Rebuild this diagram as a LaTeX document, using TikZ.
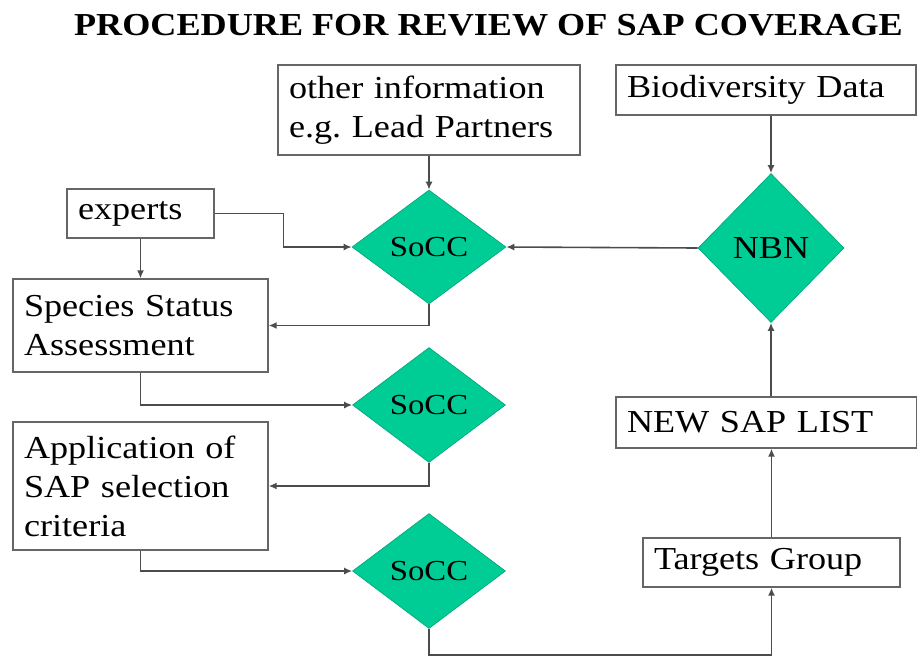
\documentclass[tikz,border=0pt]{standalone}
\usepackage{fontspec}
\setmainfont{Liberation Serif}[FakeStretch=1.13]
\usepackage{tikz}
\usetikzlibrary{shapes.geometric,arrows.meta,positioning}
\definecolor{soccgreen}{RGB}{0,204,150}

\begin{document}
\begin{tikzpicture}[x=1pt,y=-1pt,
    box/.style={draw=black!60,line width=1.3pt,fill=white,inner xsep=11pt,inner ysep=0pt,
        align=left,font=\fontsize{32}{39}\selectfont},
    decision/.style={diamond,fill=soccgreen,draw=soccgreen!80!black,line width=0.6pt,inner sep=0pt,
        font=\fontsize{29}{32}\selectfont},
    link/.style={draw=black!70,line width=1.6pt,-{Latex[length=8pt,width=7pt]}}]
    \useasboundingbox (0,0) rectangle (917,657);
    \node[anchor=base,font=\fontsize{32}{36}\selectfont\bfseries] (title) at (488.5,35)
        {PROCEDURE FOR REVIEW OF SAP COVERAGE};
    % input boxes
    \node[box,text width=280pt,minimum height=90pt] (info) at (429,110)
        {other information\\e.g.\ Lead Partners};
    \node[box,text width=278pt,minimum height=50pt] (bio) at (766,90) {Biodiversity Data};
    \node[box,text width=125pt,minimum height=49pt] (experts) at (140.5,213.5) {experts};
    \node[box,text width=233pt,minimum height=93pt] (species) at (140.5,325.5)
        {Species Status\\Assessment};
    \node[box,text width=233pt,minimum height=128pt] (appl) at (140.5,486)
        {Application of\\SAP selection\\criteria};
    \node[box,text width=279pt,minimum height=51pt] (newsap) at (766.5,422.5) {NEW SAP LIST};
    \node[box,text width=235pt,minimum height=49pt] (targets) at (771.5,562.5) {Targets Group};
    % decision points
    \node[decision,minimum width=154pt,minimum height=114pt] (soccA) at (429,247) {SoCC};
    \node[decision,minimum width=146pt,minimum height=149pt,font=\fontsize{32}{34}\selectfont]
        (nbn) at (771,248) {NBN};
    \node[decision,minimum width=153pt,minimum height=115pt] (soccB) at (429,405) {SoCC};
    \node[decision,minimum width=153pt,minimum height=115pt] (soccC) at (429,571) {SoCC};
    % connectors
    \draw[link] (info.south) -- (soccA.north);
    \draw[link] (nbn.north |- bio.south) -- (nbn.north);
    \draw[link] (nbn.west) -- (soccA.east);
    \draw[link] (experts.east) -- ++(69,0) |- (soccA.west);
    \draw[link] (experts.south) -- (species.north);
    \draw[link] (soccA.south) |- (species.east);
    \draw[link] (species.south) |- (soccB.west);
    \draw[link] (soccB.south) |- (appl.east);
    \draw[link] (appl.south) |- (soccC.west);
    \draw[link] (soccC.south) -- ++(0,26) -| (targets.south);
    \draw[link] (targets.north) -- (targets.north |- newsap.south);
    \draw[link] (nbn.south |- newsap.north) -- (nbn.south);
\end{tikzpicture}
\end{document}
